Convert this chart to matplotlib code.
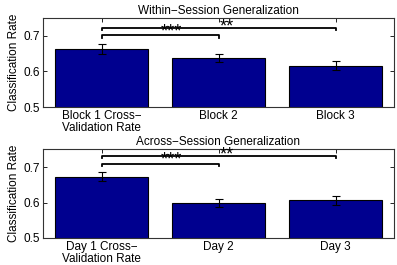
import matplotlib
matplotlib.use("Agg")
import matplotlib.pyplot as plt
import matplotlib.transforms as mtransforms

plt.rcParams['font.family'] = ['Liberation Sans', 'DejaVu Sans']

titles = ["Within\u2212Session Generalization", "Across\u2212Session Generalization"]
labels_top = ["Block 1 Cross\u2212\nValidation Rate", "Block 2", "Block 3"]
labels_bot = ["Day 1 Cross\u2212\nValidation Rate", "Day 2", "Day 3"]
vals_top = [0.662, 0.637, 0.616]
err_top = [0.014, 0.011, 0.013]
vals_bot = [0.673, 0.599, 0.606]
err_bot = [0.013, 0.012, 0.013]
# significance: (x1, x2, line level, stars)
sig_top = [(1, 2, 0.701, "***"), (1, 3, 0.7225, "**")]
sig_bot = [(1, 2, 0.708, "***"), (1, 3, 0.7315, "**")]

W, H = 397, 265
fig = plt.figure(figsize=(W / 100, H / 100), dpi=100)
bar_color = (0, 0, 0.5625)

def panel(rect, vals, errs, labels, title, sigs):
    ax = fig.add_axes(rect)
    x = [1, 2, 3]
    ax.bar(x, vals, width=0.8, color=bar_color, edgecolor='black', linewidth=0.8, zorder=2)
    ax.errorbar(x, vals, yerr=errs, fmt='none', ecolor='black', elinewidth=0.8,
                capsize=3, capthick=0.8, zorder=3)
    ax.set_xlim(0.5, 3.5)
    ax.set_ylim(0.5, 0.75)
    ax.set_yticks([0.5, 0.6, 0.7])
    ax.set_yticklabels(["0.5", "0.6", "0.7"])
    ax.set_xticks(x)
    ax.set_xticklabels(labels, fontsize=8.5, linespacing=1.0)
    ax.tick_params(axis='both', direction='in', length=3, width=0.6,
                   top=True, right=True, labelsize=8.5, pad=2)
    ax.set_ylabel("Classification Rate", fontsize=8.5, labelpad=3)
    ax.set_title(title, fontsize=8.5, pad=3)
    for s in ax.spines.values():
        s.set_linewidth(0.8)
        s.set_color('#333333')
    # significance brackets
    for x1, x2, lvl, stars in sigs:
        d = 0.006
        ax.plot([x1, x1, x2, x2], [lvl - d, lvl, lvl, lvl - d], color='black',
                linewidth=1.3, clip_on=False, zorder=4)
    (a1, b1, l1, s1), (a2, b2, l2, s2) = sigs
    # shift baseline down so the asterisk glyph centre lands on the target level
    off = mtransforms.offset_copy(ax.transData, fig=fig, x=0, y=-6.0, units='points')
    ax.text(1.6, l2, s1, ha='center', va='baseline', fontsize=13,
            clip_on=False, zorder=5, transform=off)
    ax.text(2.07, l2 + 0.014, s2, ha='center', va='baseline', fontsize=13,
            clip_on=False, zorder=5, transform=off)
    return ax

panel([43 / W, 1 - 107 / H, (394 - 43) / W, (107 - 18) / H],
      vals_top, err_top, labels_top, titles[0], sig_top)
panel([43 / W, 1 - 238 / H, (394 - 43) / W, (238 - 149.3) / H],
      vals_bot, err_bot, labels_bot, titles[1], sig_bot)

fig.savefig("out.png", dpi=100)
